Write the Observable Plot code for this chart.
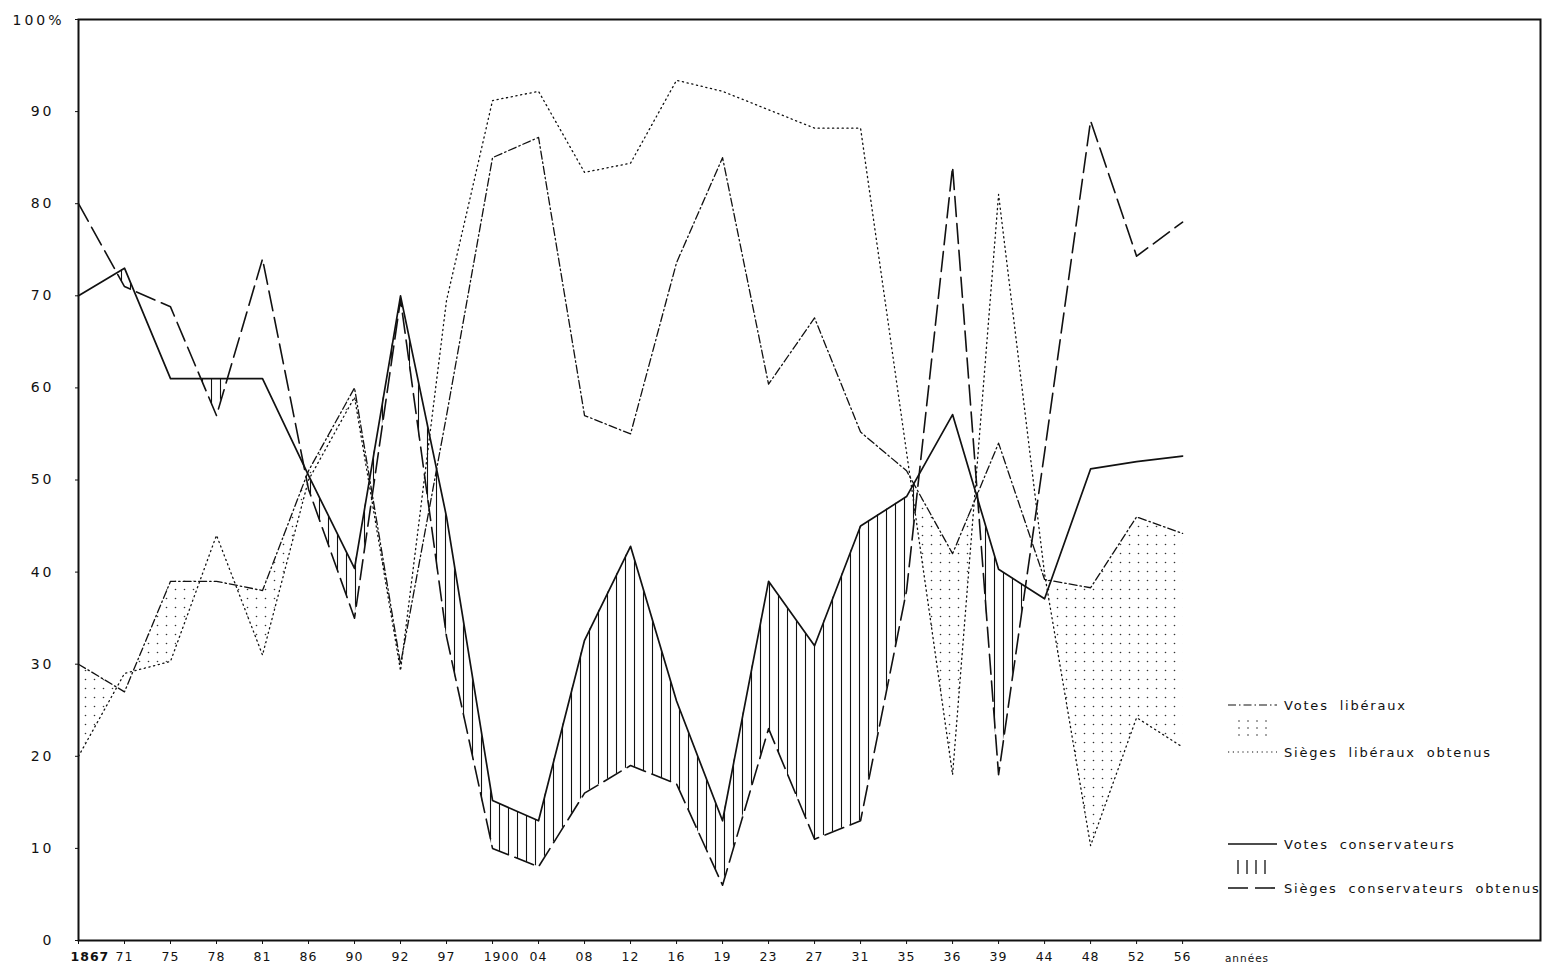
<!DOCTYPE html>
<html>
<head>
<meta charset="utf-8">
<script src="https://cdn.jsdelivr.net/npm/d3@7"></script>
<script src="https://cdn.jsdelivr.net/npm/@observablehq/plot@0.6"></script>
<style>
  html, body { margin: 0; padding: 0; background: #fff; }
  #chart svg { display: block; }
  #chart svg text { letter-spacing: 1px; }
  #chart svg g.ylab text { letter-spacing: 3px; }
</style>
</head>
<body>
<div id="chart"></div>
<script>
// ---- data ----
const years = ["1867","71","75","78","81","86","90","92","97","1900","04","08","12","16","19","23","27","31","35","36","39","44","48","52","56"];
const consVotes = [70, 73, 61, 61, 61, 50.5, 40.4, 70, 46, 15.2, 13, 32.6, 42.8, 26, 13, 39, 32, 45, 48.2, 57.1, 40.3, 37.1, 51.2, 52, 52.6];
const consSeats = [80, 71, 68.8, 57, 74, 49, 35, 69.6, 33, 10, 8, 16, 19, 17, 6, 23, 11, 13, 38, 84, 18, 53, 89, 74.3, 78];
const libVotes  = [30, 27, 39, 39, 38, 51, 60, 30, 57, 85, 87.2, 57, 55, 73.6, 85, 60.4, 67.6, 55.2, 51, 42, 54, 39.2, 38.3, 46, 44.2];
const libSeats  = [20, 29, 30.3, 44, 31, 50, 59, 29.3, 69.5, 91.2, 92.2, 83.4, 84.4, 93.4, 92.2, 90.2, 88.2, 88.2, 53, 18, 81, 39.8, 10.3, 24.2, 21];
const yTicks = [0, 10, 20, 30, 40, 50, 60, 70, 80, 90, 100];
const xUnitLabel = "années";
const legendLabels = ["Votes libéraux", "Sièges libéraux obtenus", "Votes conservateurs", "Sièges conservateurs obtenus"];

const idx = years.map((_, i) => i);

// region where votes exceed seats (with exact crossing points)
function band(votes, seats) {
  const out = [];
  for (let i = 0; i < votes.length; i++) {
    out.push({x: i, lo: seats[i], hi: Math.max(votes[i], seats[i])});
    if (i < votes.length - 1) {
      const d1 = votes[i] - seats[i], d2 = votes[i + 1] - seats[i + 1];
      if (d1 * d2 < 0) {
        const t = d1 / (d1 - d2);
        const y = seats[i] + t * (seats[i + 1] - seats[i]);
        out.push({x: i + t, lo: y, hi: y});
      }
    }
  }
  return out;
}
const consBand = band(consVotes, consSeats);
const libBand = band(libVotes, libSeats);

const ink = "#111";
const dashSeatsCons = "20,7";
const dashVotesLib = "8,3,1.5,3";
const dashSeatsLib = "1.2,3.6";

const chart = Plot.plot({
  width: 1553,
  height: 972,
  marginLeft: 78, marginRight: 13, marginTop: 19, marginBottom: 32,
  x: {domain: [0, 31.78], axis: null, label: null},
  y: {domain: [0, 100], axis: null, label: null},
  style: {fontFamily: "DejaVu Sans", background: "#fff", color: ink},
  marks: [
    Plot.areaY(consBand, {x: "x", y1: "lo", y2: "hi", fill: "url(#hatch)"}),
    Plot.areaY(libBand, {x: "x", y1: "lo", y2: "hi", fill: "url(#stipple)"}),
    Plot.line(idx, {x: d => d, y: d => libSeats[d], stroke: ink, strokeWidth: 1.3, strokeDasharray: dashSeatsLib}),
    Plot.line(idx, {x: d => d, y: d => libVotes[d], stroke: ink, strokeWidth: 1.3, strokeDasharray: dashVotesLib}),
    Plot.line(idx, {x: d => d, y: d => consSeats[d], stroke: ink, strokeWidth: 1.6, strokeDasharray: dashSeatsCons}),
    Plot.line(idx, {x: d => d, y: d => consVotes[d], stroke: ink, strokeWidth: 1.7}),
    Plot.frame({stroke: ink, strokeWidth: 2}),
    Plot.axisX({ticks: idx, tickSize: 4, tickFormat: () => "", stroke: ink, label: null}),
    Plot.axisY({ticks: yTicks, tickSize: 3, tickFormat: () => "", stroke: ink, label: null}),
    Plot.text(idx.filter(i => i !== 0 && i !== 9), {x: d => d, text: d => years[d], frameAnchor: "bottom", dy: 20, fontSize: 12.5, fill: ink}),
    Plot.text([0], {x: d => d, text: d => years[d], frameAnchor: "bottom", dy: 20, dx: -8, textAnchor: "start", fontSize: 12.5, fontWeight: "bold", fill: ink}),
    Plot.text([9], {x: d => d, text: d => years[d], frameAnchor: "bottom", dy: 20, dx: 9, fontSize: 12.5, fill: ink}),
    Plot.text([xUnitLabel], {x: [25.4], text: d => d, frameAnchor: "bottom", dy: 21, fontSize: 10.5, fill: ink}),
    Plot.text(yTicks.filter(d => d !== 100), {frameAnchor: "left", y: d => d, text: d => String(d), dx: -24, textAnchor: "end", fontSize: 14, fill: ink, className: "ylab"}),
    Plot.text(["100%"], {frameAnchor: "top-left", text: d => d, dx: -66, dy: -4, textAnchor: "start", fontSize: 14, fill: ink, className: "ylab"})
  ]
});

document.getElementById("chart").appendChild(chart);

// patterns and in-frame legend
const svg = d3.select(chart.tagName.toLowerCase() === "svg" ? chart : chart.querySelector("svg"));
const defs = svg.insert("defs", ":first-child");
const hatch = defs.append("pattern").attr("id", "hatch").attr("patternUnits", "userSpaceOnUse")
  .attr("width", 9).attr("height", 12);
hatch.append("line").attr("x1", 4.5).attr("x2", 4.5).attr("y1", 0).attr("y2", 12)
  .attr("stroke", ink).attr("stroke-width", 1.1);
const stip = defs.append("pattern").attr("id", "stipple").attr("patternUnits", "userSpaceOnUse")
  .attr("width", 9).attr("height", 9);
stip.append("circle").attr("cx", 4.5).attr("cy", 4.5).attr("r", 0.8).attr("fill", "#333");

const lg = svg.append("g").attr("font-family", "DejaVu Sans").attr("font-size", 13)
  .attr("fill", ink).attr("text-anchor", "start");
function legendText(y, t) {
  lg.append("text").attr("x", 1284).attr("y", y).attr("dy", "0.35em").attr("text-anchor", "start")
    .style("letter-spacing", "1.8px").style("word-spacing", "5px").text(t);
}
function legendLine(y, dash, w) {
  lg.append("line").attr("x1", 1228).attr("x2", 1277).attr("y1", y).attr("y2", y)
    .attr("stroke", ink).attr("stroke-width", w).attr("stroke-dasharray", dash);
}
legendLine(705, dashVotesLib, 1.2);
legendText(705, legendLabels[0]);
for (let r = 0; r < 3; r++) for (let c = 0; c < 4; c++) {
  lg.append("circle").attr("cx", 1239 + c * 9).attr("cy", 721 + r * 7).attr("r", 0.8).attr("fill", "#333");
}
legendLine(752, dashSeatsLib, 1.2);
legendText(752, legendLabels[1]);
legendLine(844, null, 1.6);
legendText(844, legendLabels[2]);
for (let c = 0; c < 4; c++) {
  lg.append("line").attr("x1", 1238 + c * 9).attr("x2", 1238 + c * 9).attr("y1", 860).attr("y2", 874)
    .attr("stroke", ink).attr("stroke-width", 1.3);
}
legendLine(888, "20,7", 1.6);
legendText(888, legendLabels[3]);
</script>
</body>
</html>
